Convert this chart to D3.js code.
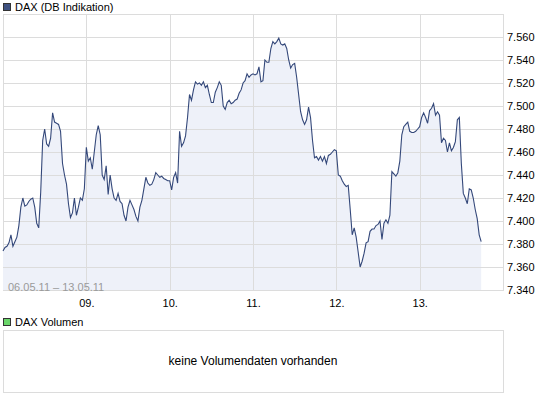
<!DOCTYPE html>
<html>
<head>
<meta charset="utf-8">
<script src="https://cdn.jsdelivr.net/npm/d3@7"></script>
<style>
body { margin: 0; background: #fff; }
text { font-family: "Liberation Sans", Arial, sans-serif; font-size: 11px; }
</style>
</head>
<body>
<div class="chart"></div>
<script>
// DAX intraday, 06.05.11 - 13.05.11, one value per 20 min slot (42 slots per trading day)
var dayLabels = ["06.", "09.", "10.", "11.", "12.", "13."]
var rangeLabel = "06.05.11 \u2013 13.05.11"
var priceTitle = "DAX (DB Indikation)"
var volumeTitle = "DAX Volumen"
var volumeNote = "keine Volumendaten vorhanden"
var yTicks = [7340, 7360, 7380, 7400, 7420, 7440, 7460, 7480, 7500, 7520, 7540, 7560]
var slotsPerDay = 42

var day06 = [7374, 7377, 7378, 7381, 7388, 7378, 7382, 7386, 7396, 7412,
  7420, 7413, 7414, 7417, 7419, 7420, 7412, 7398, 7394, 7425,
  7470, 7480, 7467, 7465, 7472, 7494, 7486, 7485, 7484, 7478,
  7450, 7440, 7432, 7415, 7403, 7407, 7420, 7405, 7412, 7420,
  7418, 7428]
var day09 = [7464, 7452, 7455, 7445, 7460, 7475, 7483, 7475, 7440, 7436,
  7448, 7423, 7440, 7428, 7420, 7418, 7424, 7417, 7415, 7405,
  7400, 7412, 7418, 7414, 7410, 7404, 7400, 7412, 7418, 7428,
  7438, 7433, 7431, 7432, 7436, 7442, 7440, 7438, 7439, 7437,
  7436, 7435]
var day10 = [7435, 7427, 7438, 7442, 7433, 7478, 7465, 7468, 7474, 7490,
  7510, 7505, 7514, 7521, 7519, 7520, 7518, 7521, 7516, 7518,
  7510, 7503, 7503, 7512, 7516, 7521, 7518, 7500, 7497, 7503,
  7505, 7502, 7503, 7505, 7506, 7511, 7514, 7520, 7522, 7528,
  7525, 7527]
var day11 = [7528, 7527, 7528, 7534, 7521, 7522, 7540, 7538, 7538, 7550,
  7556, 7554, 7556, 7559, 7554, 7553, 7554, 7550, 7540, 7533,
  7536, 7537, 7525, 7510, 7495, 7488, 7484, 7488, 7499, 7490,
  7470, 7455, 7456, 7453, 7456, 7452, 7456, 7450, 7457, 7458,
  7460, 7462]
var day12 = [7461, 7440, 7439, 7435, 7432, 7430, 7431, 7410, 7388, 7394,
  7386, 7373, 7360, 7365, 7372, 7381, 7382, 7391, 7393, 7393,
  7396, 7397, 7400, 7384, 7398, 7401, 7398, 7405, 7443, 7441,
  7439, 7442, 7452, 7475, 7482, 7484, 7486, 7478, 7477, 7477,
  7478, 7480]
var day13 = [7482, 7490, 7494, 7490, 7485, 7496, 7498, 7502, 7492, 7495,
  7492, 7468, 7472, 7470, 7460, 7468, 7461, 7464, 7469, 7488,
  7490, 7450, 7424, 7420, 7415, 7428, 7427, 7420, 7410, 7402,
  7388, 7382]

var days = [day06, day09, day10, day11, day12, day13]

var width = 545, height = 398
var plot = {left: 3, right: 503, top: 14, bottom: 290}

var de = d3.formatLocale({decimal: ",", thousands: ".", grouping: [3], currency: ["", " \u20ac"]})
var fmt = de.format(",.0f")

var svg = d3.select(".chart")
  .append("svg")
  .attr("width", width)
  .attr("height", height)

var points = []
days.forEach(function(vals, d) {
  vals.forEach(function(v, k) {
    points.push({t: d + k / slotsPerDay, v: v})
  })
})

var x = d3.scaleLinear()
  .domain([0, days.length])
  .range([plot.left, plot.right])

var y = d3.scaleLinear()
  .domain([7340, 7580])
  .range([plot.bottom, plot.top])

// frame
svg.append("rect")
  .attr("x", plot.left + 0.5)
  .attr("y", plot.top + 0.5)
  .attr("width", plot.right - plot.left)
  .attr("height", plot.bottom - plot.top)
  .attr("fill", "#fff")
  .attr("stroke", "#dcdcdc")

// area under the line
var area = d3.area()
  .x(function(d) { return x(d.t) })
  .y0(y(7340))
  .y1(function(d) { return y(d.v) })

svg.append("path")
  .datum(points)
  .attr("fill", "#eef1f9")
  .attr("d", area)

// grid
svg.append("g")
  .selectAll("line.h")
  .data(yTicks)
  .enter()
  .append("line")
  .attr("x1", plot.left)
  .attr("x2", plot.right)
  .attr("y1", function(d) { return Math.round(y(d)) + 0.5 })
  .attr("y2", function(d) { return Math.round(y(d)) + 0.5 })
  .attr("stroke", "#dcdcdc")

svg.append("g")
  .selectAll("line.v")
  .data(d3.range(1, days.length))
  .enter()
  .append("line")
  .attr("x1", function(d) { return Math.round(x(d)) + 0.5 })
  .attr("x2", function(d) { return Math.round(x(d)) + 0.5 })
  .attr("y1", plot.top)
  .attr("y2", plot.bottom)
  .attr("stroke", "#dcdcdc")

var line = d3.line()
  .x(function(d) { return x(d.t) })
  .y(function(d) { return y(d.v) })

svg.append("path")
  .datum(points)
  .attr("fill", "none")
  .attr("stroke", "#34487a")
  .attr("stroke-width", 1.1)
  .attr("d", line)

// y axis labels
var yAxis = d3.axisRight(y)
  .tickValues(yTicks)
  .tickSize(0)
  .tickPadding(4)
  .tickFormat(fmt)

svg.append("g")
  .attr("transform", "translate(" + plot.right + ",0)")
  .call(yAxis)
  .call(function(g) { g.select(".domain").remove() })
  .selectAll("text")
  .attr("fill", "#000")
  .style("font-size", "11px")
  .style("font-family", "'Liberation Sans', Arial, sans-serif")

// x axis labels (day starts)
var xAxis = d3.axisBottom(x)
  .tickValues(d3.range(1, days.length))
  .tickSize(0)
  .tickPadding(9)
  .tickFormat(function(d) { return dayLabels[d] })

svg.append("g")
  .attr("transform", "translate(0," + plot.bottom + ")")
  .call(xAxis)
  .call(function(g) { g.select(".domain").remove() })
  .selectAll("text")
  .attr("fill", "#000")
  .style("font-size", "11px")
  .style("font-family", "'Liberation Sans', Arial, sans-serif")

svg.append("text")
  .attr("x", 8)
  .attr("y", 291)
  .attr("fill", "#9a9a9a")
  .style("font-size", "11px")
  .text(rangeLabel)

// legends
function legend(yPos, color, label) {
  svg.append("rect")
    .attr("x", 3.5)
    .attr("y", yPos + 0.5)
    .attr("width", 7)
    .attr("height", 7)
    .attr("fill", color)
    .attr("stroke", "#333")
  svg.append("text")
    .attr("x", 15)
    .attr("y", yPos + 8)
    .attr("fill", "#000")
    .text(label)
}
legend(3, "#3e5180", priceTitle)
legend(318, "#6ad66a", volumeTitle)

// volume panel
svg.append("rect")
  .attr("x", plot.left + 0.5)
  .attr("y", 330.5)
  .attr("width", plot.right - plot.left)
  .attr("height", 62)
  .attr("fill", "#fff")
  .attr("stroke", "#dcdcdc")

svg.append("text")
  .attr("x", (plot.left + plot.right) / 2)
  .attr("y", 365)
  .attr("text-anchor", "middle")
  .attr("fill", "#000")
  .style("font-size", "12px")
  .text(volumeNote)
</script>
</body>
</html>
